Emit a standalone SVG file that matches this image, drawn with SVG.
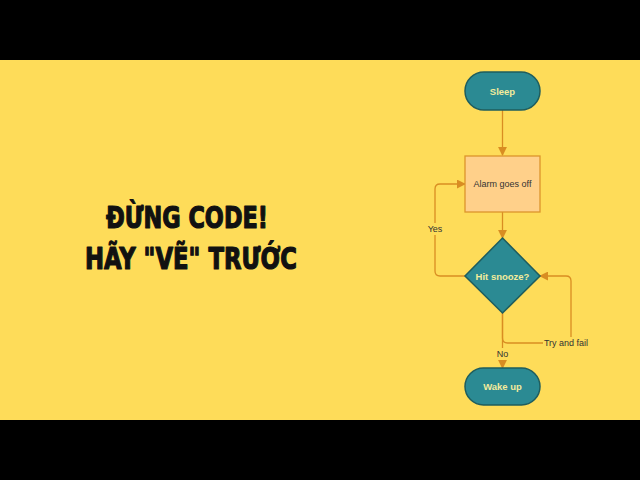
<svg xmlns="http://www.w3.org/2000/svg" width="640" height="480" viewBox="0 0 640 480">
<defs>
<style>
.term{fill:#2B8A93;stroke:#1E5D5E;stroke-width:1.5}
.tt{font-family:"Liberation Sans",Arial,sans-serif;font-size:9.5px;font-weight:bold;fill:#F3EC9C;text-anchor:middle}
.conn{fill:none;stroke:#D98D22;stroke-width:1.3}
.lbl{font-family:"Liberation Sans",Arial,sans-serif;font-size:9px;fill:#333;text-anchor:middle}
.title{font-family:"DejaVu Sans Condensed","DejaVu Sans",sans-serif;font-weight:bold;font-size:31px;fill:#111;stroke:#111;stroke-width:1.2;stroke-linejoin:round}
</style>
<marker id="ah" viewBox="0 0 10 10" refX="9" refY="5" markerWidth="9" markerHeight="9" markerUnits="userSpaceOnUse" orient="auto">
<path d="M0,0 L10,5 L0,10 z" fill="#D98D22"/>
</marker>
</defs>
<rect x="0" y="0" width="640" height="480" fill="#FEDC59"/>
<rect x="0" y="0" width="640" height="60" fill="#000"/>
<rect x="0" y="420" width="640" height="60" fill="#000"/>
<g id="title">
<text class="title" x="106" y="228" textLength="162" lengthAdjust="spacingAndGlyphs">ĐỪNG CODE!</text>
<text class="title" x="85" y="269" textLength="212" lengthAdjust="spacingAndGlyphs">HÃY "VẼ" TRƯỚC</text>
</g>
<g id="connectors">
<path class="conn" d="M502.5,110 L502.5,155" marker-end="url(#ah)"/>
<path class="conn" d="M502.5,212 L502.5,238" marker-end="url(#ah)"/>
<path class="conn" d="M465,276 L440,276 Q435,276 435,271 L435,189 Q435,184 440,184 L465,184" marker-end="url(#ah)"/>
<path class="conn" d="M502.5,313 L502.5,368" marker-end="url(#ah)"/>
<path class="conn" d="M502.5,313 L502.5,338 Q502.5,343 507.5,343 L566,343 Q571,343 571,338 L571,281 Q571,276 566,276 L540,276" marker-end="url(#ah)"/>
<rect x="425" y="223" width="20" height="12" fill="#FEDC59"/>
<text class="lbl" x="435" y="232">Yes</text>
<rect x="543" y="337" width="46" height="12" fill="#FEDC59"/>
<text class="lbl" x="566" y="346">Try and fail</text>
<rect x="494" y="348" width="17" height="12" fill="#FEDC59"/>
<text class="lbl" x="502.5" y="357">No</text>
</g>
<g id="sleep">
<rect class="term" x="465" y="72" width="75" height="38" rx="19"/>
<text class="tt" x="502.5" y="94.5">Sleep</text>
</g>
<g id="alarm">
<rect x="465" y="156" width="75" height="56" fill="#FFD08A" stroke="#DC942C" stroke-width="1.3"/>
<text x="502.5" y="187" font-family="Liberation Sans,Arial,sans-serif" font-size="9" fill="#333" text-anchor="middle">Alarm goes off</text>
</g>
<g id="snooze">
<path class="term" d="M502.5,238 L540,276 L502.5,313 L465,276 z"/>
<text class="tt" x="502.5" y="279.5">Hit snooze?</text>
</g>
<g id="wake">
<rect class="term" x="465" y="368" width="75" height="37" rx="18.5"/>
<text class="tt" x="502.5" y="390">Wake up</text>
</g>
</svg>
